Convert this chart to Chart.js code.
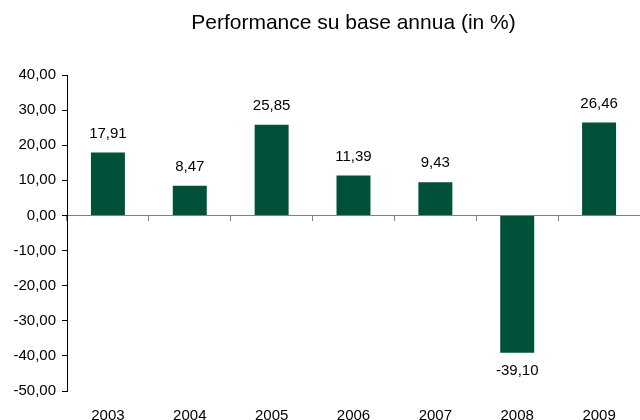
<!DOCTYPE html>
<html>
<head>
<meta charset="utf-8">
<script src="https://cdn.jsdelivr.net/npm/chart.js@4"></script>
<style>
  html, body { margin: 0; padding: 0; background: #fff; overflow: hidden; }
  #wrap { width: 640px; height: 420px; overflow: hidden; }
</style>
</head>
<body>
<div id="wrap"><canvas id="perfChart" width="640" height="440"></canvas></div>
<script>
// chart data
const years = ['2003', '2004', '2005', '2006', '2007', '2008', '2009'];
const performance = [17.91, 8.47, 25.85, 11.39, 9.43, -39.10, 26.46];
const titleText = 'Performance su base annua (in %)';
const yMin = -50;
const yMax = 40;
const yStep = 10;

const barColor = '#01513A';
const fontFamily = '"Liberation Sans", Arial, sans-serif';
const fmt = v => v.toFixed(2).replace('.', ',');

// title centred over the plot area
const titlePlugin = {
  id: 'plotTitle',
  afterDraw(chart) {
    const { ctx, chartArea } = chart;
    ctx.save();
    ctx.font = '21px ' + fontFamily;
    ctx.fillStyle = '#000';
    ctx.textAlign = 'center';
    ctx.textBaseline = 'alphabetic';
    ctx.fillText(titleText, (chartArea.left + chartArea.right) / 2, 29);
    ctx.restore();
  }
};

// value labels above / below each bar
const valueLabels = {
  id: 'valueLabels',
  afterDatasetsDraw(chart) {
    const { ctx } = chart;
    const meta = chart.getDatasetMeta(0);
    ctx.save();
    ctx.font = '15px ' + fontFamily;
    ctx.fillStyle = '#000';
    ctx.textAlign = 'center';
    ctx.textBaseline = 'middle';
    meta.data.forEach((bar, i) => {
      const v = performance[i];
      const y = v >= 0 ? bar.y - 19 : bar.y + 18;
      ctx.fillText(fmt(v), bar.x, y);
    });
    ctx.restore();
  }
};

const ctx = document.getElementById('perfChart').getContext('2d');
new Chart(ctx, {
  type: 'bar',
  data: {
    labels: years,
    datasets: [{
      data: performance,
      backgroundColor: barColor,
      borderWidth: 0,
      barPercentage: 0.415,
      categoryPercentage: 1
    }]
  },
  options: {
    responsive: false,
    animation: false,
    layout: { padding: { top: 75, right: 0, bottom: 19, left: 0 } },
    plugins: {
      legend: { display: false },
      title: { display: false },
      tooltip: { enabled: false }
    },
    scales: {
      x: {
        position: 'bottom',
        grid: { display: false },
        border: { display: false },
        ticks: { color: '#000', font: { family: fontFamily, size: 15 }, padding: 8, maxRotation: 0 },
        afterFit(s) { s.height = 30; }
      },
      xZero: {
        type: 'category',
        position: { y: 0 },
        offset: true,
        grid: { display: true, drawOnChartArea: false, drawTicks: true, tickLength: 5, color: '#808080', offset: true },
        border: { display: true, color: '#808080', width: 1 },
        ticks: { display: false }
      },
      y: {
        min: yMin,
        max: yMax,
        grid: { display: true, drawOnChartArea: false, tickLength: 5, color: '#000' },
        border: { display: true, color: '#000', width: 1 },
        ticks: {
          stepSize: yStep,
          color: '#000',
          padding: 6,
          font: { family: fontFamily, size: 15 },
          callback: v => fmt(v)
        },
        afterFit(s) { s.width = 67; }
      }
    }
  },
  plugins: [titlePlugin, valueLabels]
});
</script>
</body>
</html>
